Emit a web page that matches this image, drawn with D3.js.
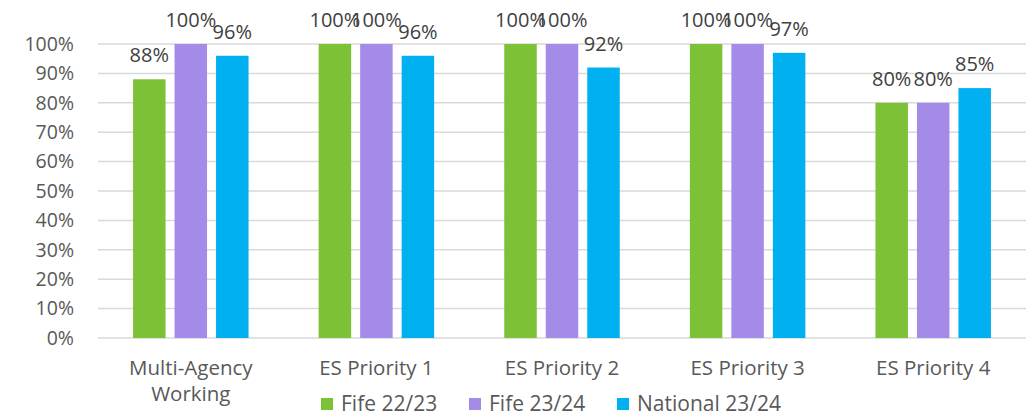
<!DOCTYPE html>
<html>
<head>
<meta charset="utf-8">
<script src="https://cdn.jsdelivr.net/npm/d3@7"></script>
<style>
  body { margin: 0; background: #fff; }
  text { font-family: "Open Sans", sans-serif; }
</style>
</head>
<body>
<svg id="chart" width="1030" height="417"></svg>
<script>
const categories = [["Multi-Agency", "Working"], ["ES Priority 1"], ["ES Priority 2"], ["ES Priority 3"], ["ES Priority 4"]];
const series = ["Fife 22/23", "Fife 23/24", "National 23/24"];
const colors = ["#7DC136", "#A58BE8", "#00B0F0"];
const fife2223 = [88, 100, 100, 100, 80];
const fife2324 = [100, 100, 100, 100, 80];
const national2324 = [96, 96, 92, 97, 85];
const ticks = [0, 10, 20, 30, 40, 50, 60, 70, 80, 90, 100];

const values = [fife2223, fife2324, national2324];
const svg = d3.select("#chart");

const x0 = d3.scaleBand()
  .domain(categories.map((c, i) => i))
  .range([98, 1026]);

const x1 = d3.scaleBand()
  .domain(series)
  .range([-57.75, 57.75])
  .paddingInner(0.217);

const y = d3.scaleLinear().domain([0, 100]).range([338, 44]);

// gridlines
svg.append("g")
  .selectAll("line")
  .data(ticks)
  .join("line")
  .attr("x1", 98)
  .attr("x2", 1026)
  .attr("y1", d => y(d))
  .attr("y2", d => y(d))
  .attr("stroke", "#d9d9d9")
  .attr("stroke-width", 1.5);

// y tick labels
svg.append("g")
  .selectAll("text")
  .data(ticks)
  .join("text")
  .attr("x", 74)
  .attr("y", d => y(d))
  .attr("dy", "0.35em")
  .attr("text-anchor", "end")
  .attr("fill", "#595959")
  .style("font-size", "19.5px")
  .text(d => d + "%");

// bars
const groups = svg.append("g")
  .selectAll("g")
  .data(categories)
  .join("g")
  .attr("transform", (d, i) => `translate(${x0(i) + x0.bandwidth() / 2},0)`);

groups.each(function (cat, i) {
  const g = d3.select(this);
  const rows = series.map((s, k) => ({ s, v: values[k][i], c: colors[k] }));
  g.selectAll("rect")
    .data(rows)
    .join("rect")
    .attr("x", d => x1(d.s))
    .attr("width", x1.bandwidth())
    .attr("y", d => y(d.v))
    .attr("height", d => y(0) - y(d.v))
    .attr("fill", d => d.c);
  g.selectAll("text.lbl")
    .data(rows)
    .join("text")
    .attr("class", "lbl")
    .attr("x", d => x1(d.s) + x1.bandwidth() / 2)
    .attr("y", d => y(d.v) - 17)
    .attr("text-anchor", "middle")
    .attr("fill", "#404040")
    .style("font-size", "20px")
    .text(d => d.v + "%");
  // category label
  g.selectAll("text.cat")
    .data(cat)
    .join("text")
    .attr("class", "cat")
    .attr("x", 0)
    .attr("y", (d, j) => 375 + j * 26)
    .attr("text-anchor", "middle")
    .attr("fill", "#595959")
    .style("font-size", "20.5px")
    .text(d => d);
});

// legend
const legendX = [321, 469, 617];
const legend = svg.append("g")
  .selectAll("g")
  .data(series)
  .join("g")
  .attr("transform", (d, i) => `translate(${legendX[i]},398)`);
legend.append("rect")
  .attr("width", 12)
  .attr("height", 12)
  .attr("fill", (d, i) => colors[i]);
legend.append("text")
  .attr("x", 20)
  .attr("y", 13)
  .attr("fill", "#595959")
  .style("font-size", "21px")
  .text(d => d);
</script>
</body>
</html>
